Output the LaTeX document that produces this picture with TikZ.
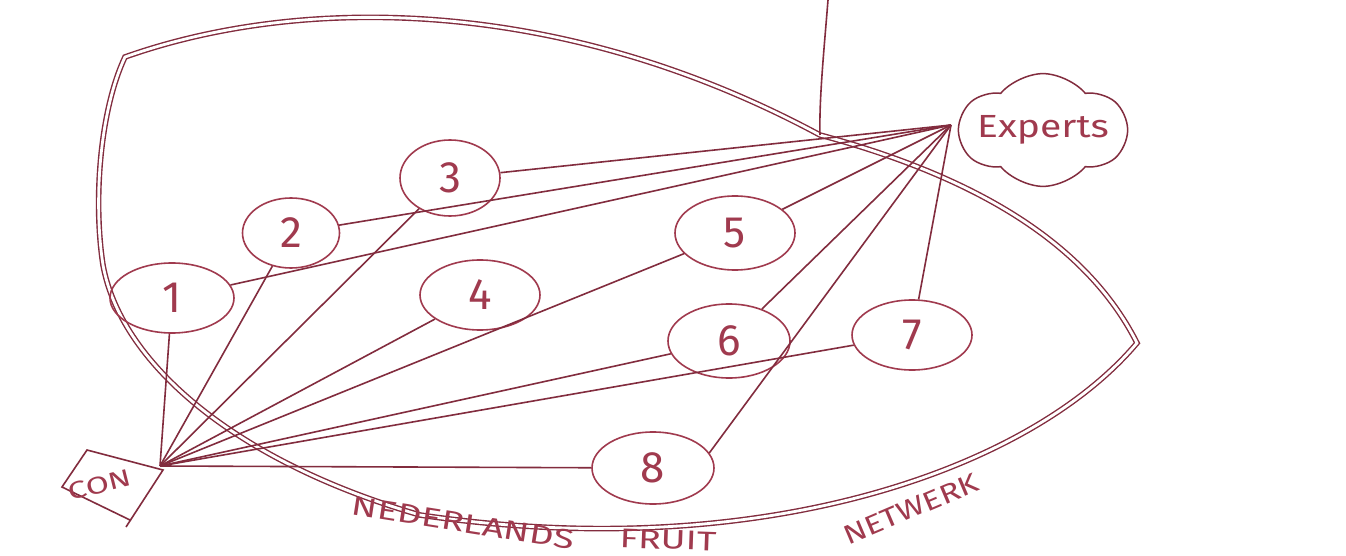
\documentclass[tikz,border=0pt]{standalone}
\usepackage{fontspec}
\setmainfont{Fira Sans}
\usetikzlibrary{shapes.geometric,shapes.symbols}
\definecolor{ink}{RGB}{130,44,62}
\definecolor{inkl}{RGB}{160,58,78}
\begin{document}
\begin{tikzpicture}[x=1pt,y=-1pt,
  num/.style={ellipse,draw=inkl,line width=1.6pt,text=inkl,inner sep=0pt,font=\fontsize{44}{44}\selectfont},
  link/.style={draw=ink,line width=1.6pt},
  rim/.style={draw=ink,line width=1.4pt,double=white,double distance=2.8pt},
  word/.style={text=inkl,font=\fontsize{27}{27}\selectfont,inner sep=0pt}]
\fill[white] (0,0) rectangle (1346,556);
\useasboundingbox (0,0) rectangle (1346,556);

% the network outline
\draw[rim] (125,57) .. controls (300,-5) and (560,-5) .. (820,135)
  .. controls (950,170) and (1080,230) .. (1137,343)
  .. controls (1030,470) and (760,565) .. (420,515)
  .. controls (230,460) and (120,360) .. (103,265)
  .. controls (93,200) and (100,110) .. (125,57) -- cycle;

% vertical line from the top
\coordinate (topv) at (828,0);
\coordinate (kink) at (820,135);
\draw[link] (topv) .. controls (824,50) and (819,100) .. (kink);

% numbered nodes
\node[num,minimum width=124,minimum height=70] (n1) at (172,298) {1};
\node[num,minimum width=97,minimum height=70] (n2) at (291,233) {2};
\node[num,minimum width=100,minimum height=76] (n3) at (450,178) {3};
\node[num,minimum width=120,minimum height=70] (n4) at (480,295) {4};
\node[num,minimum width=120,minimum height=74] (n5) at (735,233) {5};
\node[num,minimum width=122,minimum height=74] (n6) at (729,341) {6};
\node[num,minimum width=120,minimum height=70] (n7) at (912,335) {7};
\node[num,minimum width=122,minimum height=72] (n8) at (653,468) {8};

% experts cloud
\node[cloud,cloud puffs=6,cloud puff arc=100,aspect=2.0,draw=ink,line width=1.5pt,
  minimum width=165,minimum height=88,inner sep=-6pt,text=inkl,
  font=\fontsize{32}{32}\selectfont] (ex) at (1043,130) {\scalebox{1.22}[1]{Experts}};
\coordinate (exh) at (951,125);

% CON box
\coordinate (hub) at (160,466);
\draw[ink,line width=1.6pt] (130,520) -- (62,487) -- (87,450) -- (163,470) -- (126,527);
\node[rotate=14,text=inkl,font=\fontsize{24}{24}\selectfont,inner sep=0pt] (con) at (100,485) {\scalebox{1.4}[1]{CON}};

% connectors from CON
\foreach \n in {n1,n2,n3,n4,n5,n6,n7,n8} \draw[link] (hub) -- (\n);
% connectors from experts
\foreach \n in {n1,n2,n3,n5,n6,n7} \draw[link] (exh) -- (\n);
\draw[link] (exh) -- (n8.15);

% label
\node[word,rotate=-9] (w1) at (463,523) {\scalebox{1.4}[1]{NEDERLANDS}};
\node[word,rotate=-2] (w2) at (668,540) {\scalebox{1.4}[1]{FRUIT}};
\node[word,rotate=23] (w3) at (911,509) {\scalebox{1.25}[1]{NETWERK}};
\end{tikzpicture}
\end{document}
